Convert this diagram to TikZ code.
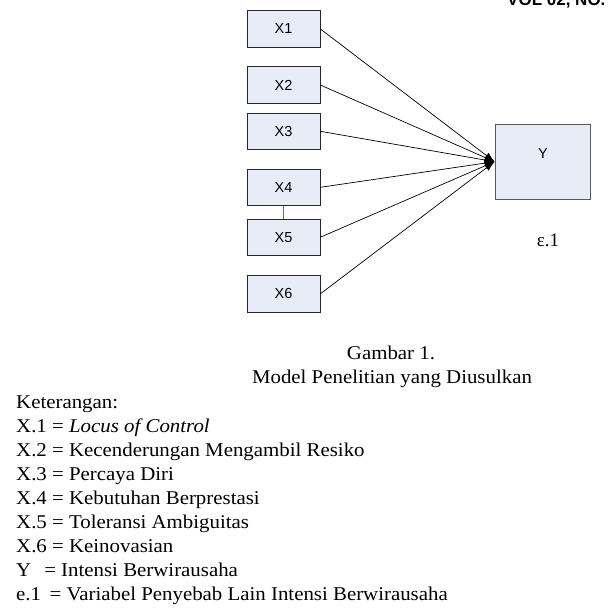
\documentclass[tikz,border=0pt]{standalone}
\usepackage{fontspec}
\setmainfont[FakeStretch=1.07]{Liberation Serif}
\newfontfamily\boxfont{Liberation Sans}
\newfontfamily\epsfont{Liberation Serif}
\usetikzlibrary{arrows.meta}
\definecolor{boxfill}{RGB}{232,236,247}
\definecolor{linkblue}{RGB}{68,114,196}
\tikzset{
  xbox/.style={draw=black!85, fill=boxfill, line width=0.8pt, minimum width=73pt, minimum height=36.5pt, inner sep=0pt, font=\boxfont\fontsize{14.5}{16}\selectfont},
  ybox/.style={draw=black!65, fill=boxfill, line width=1pt, minimum width=95.5pt, minimum height=75.3pt, inner sep=0pt},
  conn/.style={draw=black, line width=0.7pt, -{Latex[length=10pt,width=7pt]}},
  txt/.style={anchor=base west, inner sep=0pt, font=\fontsize{19.5}{24}\selectfont},
  captxt/.style={anchor=base, inner sep=0pt, font=\fontsize{19.5}{24}\selectfont}
}
\begin{document}
\begin{tikzpicture}[x=1pt,y=-1pt]
\useasboundingbox[fill=white] (0,0) rectangle (612,608);
% header (cut off at the top edge, as in the reference)
\node[anchor=base west, inner sep=0pt, font=\boxfont\bfseries\fontsize{17}{19}\selectfont] (hdr) at (507,5) {VOL 02, NO.};
% boxes
\node[xbox] (X1) at (283.5,29) {X1};
\node[xbox] (X2) at (283.5,85) {X2};
\node[xbox] (X3) at (283.5,131.3) {X3};
\node[xbox] (X4) at (283.5,187.3) {X4};
\node[xbox] (X5) at (283.5,237.2) {X5};
\node[xbox] (X6) at (283.5,293.8) {X6};
\node[ybox] (Y) at (542.8,161.7) {};
\node[font=\boxfont\fontsize{14.5}{16}\selectfont, inner sep=0pt] (Ylab) at (543,154) {Y};
% connectors
\foreach \n in {X1,X2,X3,X4,X5,X6}{
  \draw[conn] (\n.east) -- (Y.west);
}
\draw[linkblue, line width=0.7pt] (X4.south) -- (X5.north);
% epsilon
\node[anchor=base, inner sep=0pt, font=\epsfont\fontsize{19}{22}\selectfont] (eps) at (548,246.7) {ε.1};
% caption
\node[captxt] (cap1) at (391,359) {Gambar 1.};
\node[captxt] (cap2) at (392,383) {Model Penelitian yang Diusulkan};
% legend
\node[txt] (k0) at (16,408) {Keterangan:};
\node[txt] (k1) at (16,432) {X.1 = \textit{Locus of Control}};
\node[txt] (k2) at (16,456) {X.2 = Kecenderungan Mengambil Resiko};
\node[txt] (k3) at (16,480) {X.3 = Percaya Diri};
\node[txt] (k4) at (16,504) {X.4 = Kebutuhan Berprestasi};
\node[txt] (k5) at (16,528) {X.5 = Toleransi Ambiguitas};
\node[txt] (k6) at (16,552) {X.6 = Keinovasian};
\node[txt] (k7) at (16,576) {Y\hspace{13pt}= Intensi Berwirausaha};
\node[txt] (k8) at (16,600) {e.1 \,= Variabel Penyebab Lain Intensi Berwirausaha};
\end{tikzpicture}
\end{document}
